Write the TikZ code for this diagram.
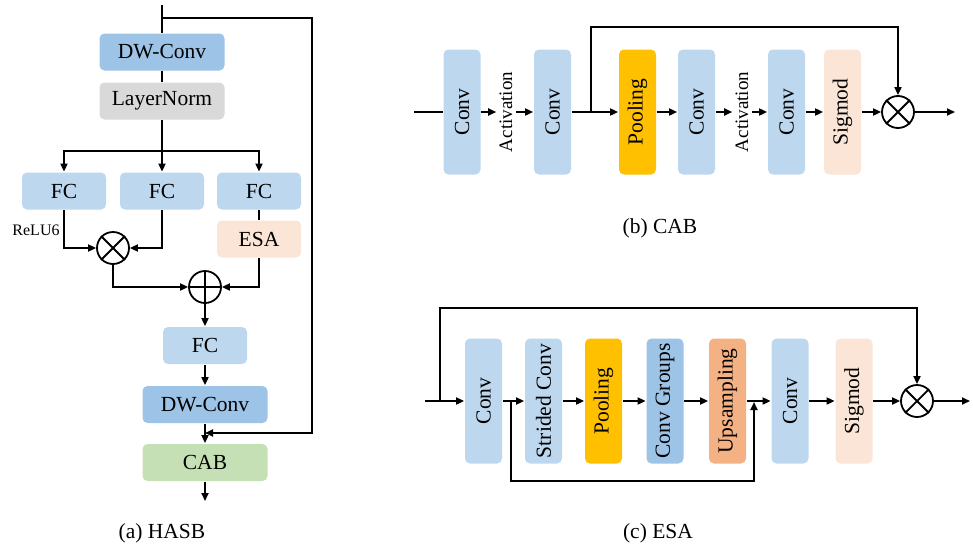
\documentclass[tikz,border=0pt]{standalone}
\usepackage{fontspec}
\setmainfont{Liberation Serif}
\usetikzlibrary{arrows.meta}
\definecolor{dwblue}{HTML}{9DC3E6}
\definecolor{lblue}{HTML}{BDD7EE}
\definecolor{lgray}{HTML}{D9D9D9}
\definecolor{peach}{HTML}{FBE5D6}
\definecolor{lgreen}{HTML}{C5E0B4}
\definecolor{gold}{HTML}{FFC000}
\definecolor{salmon}{HTML}{F4B183}
\begin{document}
\begin{tikzpicture}[x=1pt,y=-1pt,line width=1.8pt,
  blk/.style={rounded corners=5pt,draw=none,inner sep=0pt,font=\fontsize{21.5}{24}\selectfont},
  hbox/.style={blk,minimum width=#1,minimum height=37pt},
  vbox/.style={blk,minimum width=37pt,minimum height=125pt},
  lbl/.style={inner sep=2.5pt,font=\fontsize{19}{22}\selectfont},
  captxt/.style={inner sep=0pt,font=\fontsize{21.5}{24}\selectfont},
  opc/.style={circle,draw,minimum size=32pt,inner sep=0pt},
  arr/.style={-{Triangle[length=8pt,width=7pt]}}]
\useasboundingbox (0,0) rectangle (973,546);

% ---------------- (a) HASB ----------------
\node[hbox=125pt,fill=dwblue] (dw1) at (162,52) {DW-Conv};
\node[hbox=125pt,fill=lgray] (ln) at (162,101) {LayerNorm};
\node[hbox=84pt,fill=lblue] (fc1) at (64,191) {FC};
\node[hbox=84pt,fill=lblue] (fc2) at (162,191) {FC};
\node[hbox=84pt,fill=lblue] (fc3) at (259,191) {FC};
\node[hbox=84pt,fill=peach] (esa) at (259,239) {ESA};
\node[opc] (mul) at (113,248) {};
\draw (mul.north west) -- (mul.south east) (mul.north east) -- (mul.south west);
\node[opc] (add) at (205,287) {};
\draw (add.north) -- (add.south) (add.west) -- (add.east);
\node[hbox=84pt,fill=lblue] (fc4) at (205,345.5) {FC};
\node[hbox=125pt,fill=dwblue] (dw2) at (205,404.5) {DW-Conv};
\node[hbox=125pt,fill=lgreen] (cab) at (205,462.5) {CAB};
\node[inner sep=0pt,font=\fontsize{16}{18}\selectfont] (relu) at (36,230) {ReLU6};
\node[captxt] (capa) at (162,533) {(a) HASB};

\coordinate (top) at (162,5);
\coordinate (sk1) at (162,18);
\coordinate (sk2) at (312,18);
\coordinate (sk3) at (312,433);
\coordinate (sk4) at (205,433);
\coordinate (split) at (162,151);
\coordinate (out1) at (205,501);
\draw (top) -- (dw1);
\draw (dw1) -- (ln);
\draw (ln) -- (split);
\draw[arr] (split) -| (fc1);
\draw[arr] (split) -- (fc2);
\draw[arr] (split) -| (fc3);
\draw[arr] (fc1) |- (mul);
\draw[arr] (fc2) |- (mul);
\draw (fc3) -- (esa);
\draw[arr] (mul) |- (add);
\draw[arr] (esa) |- (add);
\draw[arr] (add) -- (fc4);
\draw[arr] (fc4) -- (dw2);
\draw[arr] (dw2) -- (cab);
\draw[arr] (cab) -- (out1);
\draw[arr] (sk1) -- (sk2) -- (sk3) -- (sk4);

% ---------------- (b) CAB ----------------
\node[vbox,fill=lblue] (c1) at (462,112) {\rotatebox{90}{Conv}};
\node[lbl] (act1) at (506,112) {\rotatebox{90}{Activation}};
\node[vbox,fill=lblue] (c2) at (552.5,112) {\rotatebox{90}{Conv}};
\node[vbox,fill=gold] (pool) at (637.5,112) {\rotatebox{90}{Pooling}};
\node[vbox,fill=lblue] (c3) at (696.5,112) {\rotatebox{90}{Conv}};
\node[lbl] (act2) at (742,112) {\rotatebox{90}{Activation}};
\node[vbox,fill=lblue] (c4) at (786.5,112) {\rotatebox{90}{Conv}};
\node[vbox,fill=peach] (sig) at (842.5,112) {\rotatebox{90}{Sigmod}};
\node[opc] (cmul) at (898,112) {};
\draw (cmul.north west) -- (cmul.south east) (cmul.north east) -- (cmul.south west);
\node[captxt] (capb) at (660,228) {(b) CAB};

\coordinate (cin) at (414,112);
\coordinate (cb) at (591,112);
\coordinate (ctop) at (591,27);
\coordinate (cout) at (955,112);
\draw (cin) -- (c1);
\draw[arr] (c1) -- (act1);
\draw[arr] (act1) -- (c2);
\draw (c2) -- (cb);
\draw[arr] (cb) -- (pool);
\draw[arr] (cb) -- (ctop) -| (cmul);
\draw[arr] (pool) -- (c3);
\draw[arr] (c3) -- (act2);
\draw[arr] (act2) -- (c4);
\draw[arr] (c4) -- (sig);
\draw[arr] (sig) -- (cmul);
\draw[arr] (cmul) -- (cout);

% ---------------- (c) ESA ----------------
\node[vbox,fill=lblue] (e1) at (483.5,401) {\rotatebox{90}{Conv}};
\node[vbox,fill=lblue] (sc) at (543.5,401) {\rotatebox{90}{Strided Conv}};
\node[vbox,fill=gold] (ep) at (603.5,401) {\rotatebox{90}{Pooling}};
\node[vbox,fill=dwblue] (cg) at (665,401) {\rotatebox{90}{Conv Groups}};
\node[vbox,fill=salmon] (up) at (727.5,401) {\rotatebox{90}{Upsampling}};
\node[vbox,fill=lblue] (e2) at (790,401) {\rotatebox{90}{Conv}};
\node[vbox,fill=peach] (es) at (854,401) {\rotatebox{90}{Sigmod}};
\node[opc] (emul) at (917,401) {};
\draw (emul.north west) -- (emul.south east) (emul.north east) -- (emul.south west);
\node[captxt] (capc) at (658,533) {(c) ESA};

\coordinate (ein) at (425,401);
\coordinate (eb1) at (440,401);
\coordinate (etop) at (440,308);
\coordinate (eb2) at (511,401);
\coordinate (ebot) at (511,481);
\coordinate (ebot2) at (754,481);
\coordinate (ej) at (754,402);
\coordinate (eout) at (970,401);
\draw[arr] (ein) -- (e1);
\draw[arr] (eb1) -- (etop) -| (emul);
\draw[arr] (e1) -- (sc);
\draw[arr] (eb2) -- (ebot) -- (ebot2) -- (ej);
\draw[arr] (sc) -- (ep);
\draw[arr] (ep) -- (cg);
\draw[arr] (cg) -- (up);
\draw[arr] (up) -- (e2);
\draw[arr] (e2) -- (es);
\draw[arr] (es) -- (emul);
\draw[arr] (emul) -- (eout);
\end{tikzpicture}
\end{document}
